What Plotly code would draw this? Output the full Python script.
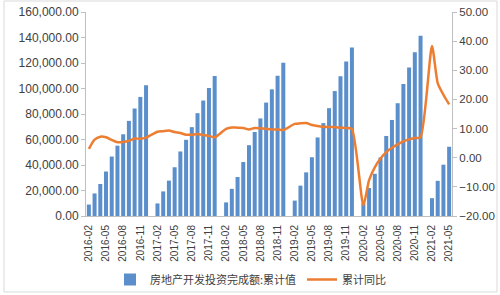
import plotly.graph_objects as go

months = []
for y in range(2016, 2022):
    for m in range(1, 13):
        if (y == 2016 and m < 2) or (y == 2021 and m > 5):
            continue
        months.append(f"{y}-{m:02d}")

# Cumulative investment (亿元); January has no release (None)
invest_2016 = [None, 8972, 17677, 25113, 34890, 46631, 55170, 64077, 74598, 84303, 93387, 102581]
invest_2017 = [None, 9854, 19292, 27732, 38243, 50610, 59761, 69694, 80644, 90544, 100387, 109799]
invest_2018 = [None, 10657, 21291, 30592, 42328, 55531, 65877, 76519, 88948, 99325, 110083, 120264]
invest_2019 = [None, 12090, 23803, 34217, 46075, 61609, 72843, 84589, 98008, 109603, 121265, 132194]
invest_2020 = [None, 10115, 21963, 33103, 45920, 62780, 75325, 88454, 103484, 116556, 128492, 141443]
invest_2021 = [None, 13986, 27576, 40240, 54318]

yoy_2016 = [None, 3.0, 6.2, 7.2, 7.0, 6.1, 5.3, 5.4, 5.8, 6.6, 6.5, 6.9]
yoy_2017 = [None, 8.9, 9.1, 9.3, 8.8, 8.5, 7.9, 7.9, 8.1, 7.8, 7.5, 7.0]
yoy_2018 = [None, 9.9, 10.4, 10.3, 10.2, 9.7, 10.2, 10.1, 9.9, 9.7, 9.7, 9.5]
yoy_2019 = [None, 11.6, 11.8, 11.9, 11.2, 10.9, 10.6, 10.5, 10.5, 10.3, 10.2, 9.9]
yoy_2020 = [None, -16.3, -7.7, -3.3, -0.3, 1.9, 3.4, 4.6, 5.6, 6.3, 6.8, 7.0]
yoy_2021 = [None, 38.3, 25.6, 21.6, 18.3]

invest = (invest_2016 + invest_2017 + invest_2018 + invest_2019 + invest_2020 + invest_2021)[1:]
yoy = (yoy_2016 + yoy_2017 + yoy_2018 + yoy_2019 + yoy_2020 + yoy_2021)[1:]

tick_labels = months[::3]

FONT = "Liberation Sans, Noto Sans CJK SC, sans-serif"
TXT = "#404040"
AX = "#BFBFBF"
PW, PH, L, T = 366, 204, 86, 12

def px_x(x):
    return (x - L) / PW

def px_y(y):
    return (T + PH - y) / PH

fig = go.Figure()
fig.add_trace(go.Bar(
    x=months, y=invest, name="房地产开发投资完成额:累计值",
    marker=dict(color="#5B8FCB", line=dict(width=0)),
    yaxis="y", legend="legend",
))
fig.add_trace(go.Scatter(
    x=months, y=yoy, name="累计同比", mode="lines",
    line=dict(color="#ED7D31", width=2.5, shape="spline", smoothing=0.6),
    connectgaps=True, yaxis="y2", legend="legend2",
))

leg_font = dict(size=11, family="Noto Sans CJK SC, sans-serif", color=TXT)
fig.update_layout(
    width=500, height=295,
    margin=dict(l=L, r=500 - L - PW, t=T, b=295 - T - PH, autoexpand=False),
    paper_bgcolor="white", plot_bgcolor="white",
    font=dict(family=FONT, color=TXT, size=12),
    bargap=0.3,
    showlegend=True,
    legend=dict(
        orientation="h", x=px_x(110), xanchor="left", y=px_y(265), yanchor="top",
        font=leg_font, bgcolor="rgba(0,0,0,0)",
    ),
    legend2=dict(
        orientation="h", x=px_x(302), xanchor="left", y=px_y(265), yanchor="top",
        font=leg_font, bgcolor="rgba(0,0,0,0)",
    ),
    xaxis=dict(
        type="category", categoryorder="array", categoryarray=months,
        tickmode="array", tickvals=tick_labels, ticktext=tick_labels,
        tickangle=-90, tickfont=dict(size=10, color=TXT),
        showline=True, linecolor=AX, linewidth=1,
        ticks="", ticklabelstandoff=4,
        showgrid=False, range=[-0.5, len(months) - 0.5],
    ),
    yaxis=dict(
        range=[0, 160000], dtick=20000, tickformat=",.2f",
        showline=True, linecolor=AX, linewidth=1,
        ticks="outside", ticklen=4, tickcolor=AX,
        showgrid=False, zeroline=False, tickfont=dict(size=12, color=TXT),
    ),
    yaxis2=dict(
        range=[-20, 50], dtick=10, tickformat=".2f", overlaying="y", side="right",
        showline=True, linecolor=AX, linewidth=1,
        ticks="outside", ticklen=4, tickcolor=AX,
        showgrid=False, zeroline=False, tickfont=dict(size=11.5, color=TXT),
    ),
    shapes=[dict(
        type="rect", xref="paper", yref="paper",
        x0=px_x(4), x1=px_x(497), y0=px_y(292), y1=px_y(1),
        line=dict(color="#D9D9D9", width=1), fillcolor="rgba(0,0,0,0)", layer="below",
    )],
)

fig.write_html("out.html")
